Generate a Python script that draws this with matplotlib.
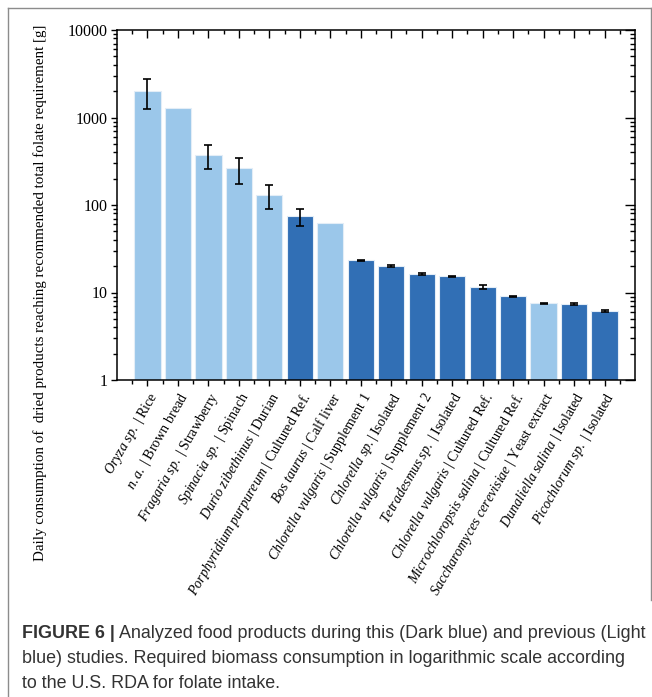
import numpy as np
import matplotlib
matplotlib.use('Agg')
import matplotlib.pyplot as plt
from matplotlib.ticker import LogLocator, NullFormatter, FixedLocator
from matplotlib.lines import Line2D

# species / sample names (italic part) and product (roman part)
species = ['Oryza sp.', 'n.a.', 'Fragaria sp.', 'Spinacia sp.', 'Durio zibethinus',
           'Porphyridium purpureum', 'Bos taurus', 'Chlorella vulgaris', 'Chlorella sp.',
           'Chlorella vulgaris', 'Tetradesmus sp.', 'Chlorella vulgaris',
           'Microchloropsis salina', 'Saccharomyces cerevisiae', 'Dunaliella salina',
           'Picochlorum sp.']
products = ['Rice', 'Brown bread', 'Strawberry', 'Spinach', 'Durian', 'Cultured Ref.',
            'Calf liver', 'Supplement 1', 'Isolated', 'Supplement 2', 'Isolated',
            'Cultured Ref.', 'Cultured Ref.', 'Yeast extract', 'Isolated', 'Isolated']
# grams per day to reach folate RDA
req = [2000, 1300, 375, 262, 130, 74, 62, 23.5, 20.1, 16.2, 15.3, 11.6, 9.1, 7.5, 7.4, 6.15]
req_err = [750, 0, 115, 87, 40, 16, 0, 0.3, 0.6, 0.3, 0.15, 0.6, 0.1, 0.15, 0.2, 0.15]
this_study = [False, False, False, False, False, True, False, True, True, True, True,
              True, True, False, True, True]

plt.rcParams['font.family'] = ['Liberation Serif', 'DejaVu Serif']
plt.rcParams['mathtext.fontset'] = 'custom'
plt.rcParams['mathtext.rm'] = 'Liberation Serif'
plt.rcParams['mathtext.it'] = 'Liberation Serif:italic'

dark = '#316FB5'
light = '#9BC7EA'

fig = plt.figure(figsize=(6.52, 6.97), dpi=100)
W, H = 652, 697
ax = fig.add_axes([117 / W, 1 - 380 / H, (635 - 117) / W, 350 / H])

x = np.arange(1, len(req) + 1)
colors = [dark if d else light for d in this_study]
ax.bar(x, req, width=0.86, color=colors, edgecolor='#e3edf7', linewidth=0.8, zorder=2)

req = np.array(req)
req_err = np.array(req_err)
has_err = req_err > 0
ax.errorbar(x[has_err], req[has_err], yerr=req_err[has_err], fmt='none', ecolor='black',
            elinewidth=1.2, capsize=3, capthick=1.2, zorder=3)

ax.set_yscale('log')
ax.set_ylim(1, 10000)
ax.set_xlim(0, 17)
ax.set_yticks([1, 10, 100, 1000, 10000], labels=['1', '10', '100', '1000', '10000'])
ax.yaxis.set_minor_locator(LogLocator(base=10, subs=np.arange(2, 10)))
ax.yaxis.set_minor_formatter(NullFormatter())

labels = []
for sp, pr in zip(species, products):
    sep = '| ' if sp == 'Chlorella sp.' else ' | '
    labels.append(r'$\mathit{' + sp.replace(' ', r'\ ') + '}$' + sep + pr)
ax.set_xticks(x, labels=labels, rotation=60, ha='right', rotation_mode='anchor')
ax.xaxis.set_minor_locator(FixedLocator(np.arange(0.5, 17, 1)))

ax.tick_params(axis='both', which='major', direction='out', length=4, width=1)
ax.tick_params(axis='y', which='major', labelsize=11.5, pad=3)
ax.tick_params(axis='x', which='major', pad=3, labelsize=10.1)
ax.tick_params(axis='both', which='minor', direction='out', length=3, width=1)
for s in ax.spines.values():
    s.set_linewidth(1.1)

# mirrored ticks on top and right, pointing inward
axt = ax.twiny()
axt.set_xlim(ax.get_xlim())
axt.set_xticks(x)
axt.xaxis.set_minor_locator(FixedLocator(np.arange(0.5, 17, 1)))
axt.tick_params(axis='x', which='major', direction='in', length=6, width=1, labeltop=False)
axt.tick_params(axis='x', which='minor', direction='in', length=3, width=1)
axr = ax.twinx()
axr.set_yscale('log')
axr.set_ylim(ax.get_ylim())
axr.set_yticks([1, 10, 100, 1000, 10000])
axr.yaxis.set_minor_locator(LogLocator(base=10, subs=np.arange(2, 10)))
axr.tick_params(axis='y', which='major', direction='in', length=7, width=1, labelright=False)
axr.tick_params(axis='y', which='minor', direction='in', length=3.5, width=1, labelright=False)
for a in (axt, axr):
    a.patch.set_visible(False)
    for s in a.spines.values():
        s.set_visible(False)

fig.text(40 / W, 1 - 293 / H,
         'Daily consumption of  dried products reaching recommended total folate requirement [g]',
         rotation=90, ha='center', va='center', fontsize=10.8)

# grey frame of the figure panel
frame = dict(color='#8c8c8c', lw=1.0, transform=fig.transFigure)
fig.add_artist(Line2D([7.5 / W, 7.5 / W], [0, 1 - 7.5 / H], **frame))
fig.add_artist(Line2D([7.5 / W, 650.5 / W], [1 - 7.5 / H, 1 - 7.5 / H], **frame))
fig.add_artist(Line2D([650.5 / W, 650.5 / W], [1 - 7.5 / H, 1 - 600 / H], **frame))

# caption
cap_kw = dict(family=['Liberation Sans', 'DejaVu Sans'], fontsize=12.9, color='#333333',
              va='baseline')
t0 = fig.text(22 / W, 1 - 638 / H, 'FIGURE 6 |', fontweight='bold', **cap_kw)
fig.canvas.draw()
bb = t0.get_window_extent(fig.canvas.get_renderer())
fig.text((bb.x1 + 4) / W, 1 - 638 / H,
         'Analyzed food products during this (Dark blue) and previous (Light', **cap_kw)
fig.text(22 / W, 1 - 663 / H,
         'blue) studies. Required biomass consumption in logarithmic scale according', **cap_kw)
fig.text(22 / W, 1 - 688 / H, 'to the U.S. RDA for folate intake.', **cap_kw)

fig.savefig('out.png', dpi=100)
